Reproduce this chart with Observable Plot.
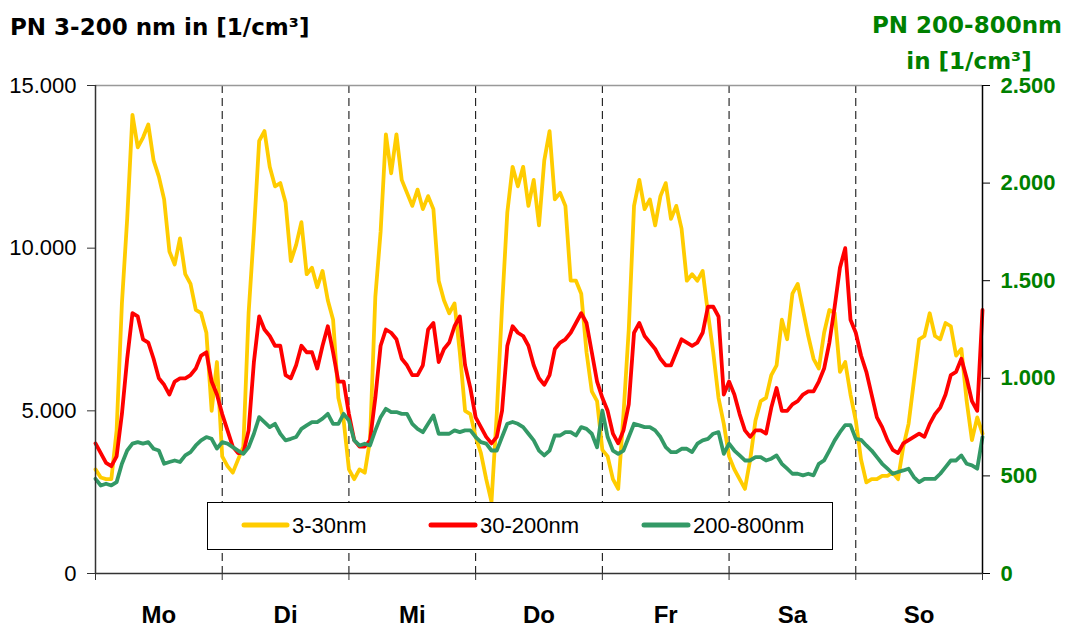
<!DOCTYPE html>
<html>
<head>
<meta charset="utf-8">
<script src="https://cdn.jsdelivr.net/npm/d3@7"></script>
<script src="https://cdn.jsdelivr.net/npm/@observablehq/plot@0.6"></script>
<style>
  body { margin: 0; background: #fff; }
  #chart { position: relative; width: 1066px; height: 628px; }
</style>
</head>
<body>
<div id="chart"></div>
<script>
// ---- data (hourly values, Monday 0h .. Sunday 24h) ----
const days = ["Mo", "Di", "Mi", "Do", "Fr", "Sa", "So"];
const dayBounds = [0, 24, 48, 72, 96, 120, 144, 168];
const dayCenters = [12, 36, 60, 84, 108, 132, 156];
const leftTicks = [0, 5000, 10000, 15000];
const rightTicks = [0, 500, 1000, 1500, 2000, 2500];
const seriesNames = ["3-30nm", "30-200nm", "200-800nm"];

// 3-30nm (left axis, 1/cm³)
const yellow = [
  3200, 2950, 2900, 2900, 4400, 8300, 10900, 14100, 13100, 13400, 13800, 12700, 12200, 11500, 9900, 9500, 10300, 9200, 8900, 8100, 8000, 7400, 5000, 6500,
  3600, 3300, 3100, 3500, 3900, 8000, 10500, 13300, 13600, 12500, 11900, 12000, 11400, 9600, 10100, 10800, 9200, 9400, 8800, 9300, 8400, 7800, 5400, 4700,
  3200, 2900, 3200, 3100, 4100, 8500, 10500, 13500, 12300, 13500, 12100, 11700, 11300, 11800, 11200, 11600, 11200, 9000, 8400, 8000, 8300, 6800, 5000, 4900,
  4200, 3700, 2900, 2200, 4900, 8200, 11100, 12500, 11900, 12500, 11300, 12100, 10700, 12700, 13600, 11500, 11700, 11300, 9000, 9000, 8600, 6800, 5600, 5300,
  3800, 3600, 2900, 2600, 4900, 7500, 11300, 12100, 11200, 11500, 10700, 11600, 12000, 10900, 11300, 10600, 9000, 9200, 9000, 9300, 8000, 6800, 5400, 4600,
  3600, 3200, 2900, 2600, 3500, 4700, 5300, 5400, 6100, 6400, 7800, 7200, 8600, 8900, 8100, 7300, 6600, 6300, 7400, 8100, 8000, 6200, 6500, 5500,
  4700, 3500, 2800, 2900, 2900, 3000, 3000, 3100, 2900, 3900, 4600, 5900, 7200, 7300, 8000, 7300, 7200, 7700, 7600, 6700, 6900, 5300, 4100, 4800, 4300
];
// 30-200nm (left axis, 1/cm³)
const red = [
  4000, 3700, 3400, 3300, 3600, 4900, 6600, 8000, 7900, 7200, 7100, 6600, 6000, 5800, 5500, 5900, 6000, 6000, 6100, 6300, 6700, 6800, 5900, 5500,
  4900, 4400, 3900, 3700, 3700, 4400, 6500, 7900, 7500, 7300, 7000, 7000, 6100, 6000, 6400, 7000, 6800, 6800, 6300, 7000, 7600, 6800, 5900, 5900,
  4900, 4100, 3900, 3900, 4100, 5400, 7000, 7500, 7400, 7200, 6600, 6400, 6100, 6100, 6400, 7500, 7700, 6500, 6900, 7100, 7600, 7900, 6400, 5700,
  4800, 4500, 4200, 4000, 4200, 5000, 7000, 7600, 7400, 7300, 7000, 6400, 6000, 5800, 6100, 6900, 7100, 7200, 7400, 7700, 8000, 7700, 6800, 5900,
  5400, 5000, 4300, 4000, 4400, 5200, 7400, 7700, 7300, 7100, 6900, 6600, 6400, 6400, 6800, 7200, 7100, 7000, 7100, 7400, 8200, 8200, 7900, 5500,
  5900, 5500, 4900, 4400, 4200, 4400, 4400, 4300, 5100, 5700, 5000, 5000, 5200, 5300, 5500, 5600, 5600, 5900, 6300, 7100, 8200, 9400, 10000, 7800,
  7400, 6700, 6200, 5500, 4800, 4500, 4100, 3800, 3700, 4000, 4100, 4200, 4300, 4200, 4600, 4900, 5100, 5500, 6100, 6200, 6600, 6000, 5300, 5000, 8100
];
// 200-800nm (right axis, 1/cm³)
const green = [
  485, 451, 460, 451, 468, 562, 630, 665, 673, 665, 673, 639, 630, 562, 571, 579, 571, 605, 622, 656, 682, 699, 690, 640,
  673, 665, 647, 630, 613, 647, 716, 801, 776, 750, 767, 716, 682, 690, 699, 741, 759, 776, 776, 793, 818, 767, 767, 818,
  784, 682, 656, 665, 656, 733, 801, 844, 827, 827, 818, 818, 767, 741, 724, 767, 810, 716, 716, 716, 733, 724, 733, 733,
  699, 673, 665, 630, 630, 699, 767, 776, 767, 750, 716, 682, 630, 605, 630, 707, 707, 724, 724, 707, 750, 741, 716, 647,
  835, 699, 630, 613, 630, 699, 767, 759, 750, 750, 733, 699, 647, 622, 622, 639, 639, 622, 665, 682, 690, 716, 724, 613,
  665, 630, 605, 579, 579, 596, 596, 579, 588, 605, 562, 537, 511, 511, 503, 511, 503, 562, 579, 630, 682, 724, 760, 760,
  690, 685, 656, 630, 596, 562, 537, 511, 520, 528, 537, 494, 468, 485, 485, 485, 511, 545, 579, 579, 605, 562, 554, 537, 699
];

// ---- helpers ----
const colors = {"3-30nm": "#FFCC00", "30-200nm": "#FF0000", "200-800nm": "#339966"};
const ratio = 15000 / 2500; // right axis -> left axis
const fmt = d3.formatLocale({decimal: ",", thousands: ".", grouping: [3], currency: ["", "€"]}).format(",d");
const rows = (arr) => arr.map((v, i) => ({h: i, v}));
const lineOpts = {strokeWidth: 3.8, strokeLinejoin: "round", strokeLinecap: "round"};

const plot = Plot.plot({
  width: 1066,
  height: 628,
  marginLeft: 95,
  marginRight: 84,
  marginTop: 85,
  marginBottom: 55,
  style: {fontFamily: "'Liberation Sans', Arial, sans-serif", background: "#fff", color: "#000", overflow: "visible"},
  x: {domain: [0, 168]},
  y: {domain: [0, 15000]},
  marks: [
    Plot.ruleX(dayBounds.slice(1, -1), {stroke: "#000", strokeWidth: 1, strokeDasharray: "8,5"}),
    Plot.ruleY([15000], {stroke: "#999", strokeWidth: 1.5}),
    Plot.line(rows(yellow), {x: "h", y: "v", stroke: colors["3-30nm"], ...lineOpts}),
    Plot.line(rows(red), {x: "h", y: "v", stroke: colors["30-200nm"], ...lineOpts}),
    Plot.line(rows(green), {x: "h", y: d => d.v * ratio, stroke: colors["200-800nm"], ...lineOpts}),
    Plot.ruleX([0], {stroke: "#333", strokeWidth: 1.5}),
    Plot.ruleX([168], {stroke: "#000", strokeWidth: 1.5}),
    Plot.ruleY([0], {stroke: "#333", strokeWidth: 1.5}),
    Plot.axisY({anchor: "left", ticks: leftTicks, tickFormat: fmt, tickSize: 8, tickPadding: 11,
      fontSize: 22, label: null, stroke: "#333"}),
    Plot.axisY({anchor: "right", ticks: rightTicks.map(v => v * ratio), tickFormat: d => fmt(d / ratio),
      tickSize: 7, tickPadding: 11, fontSize: 22, fontWeight: "bold", fill: "#008000", stroke: "#000", label: null}),
    Plot.axisX({ticks: dayBounds, tickFormat: () => "", tickSize: 7, label: null, stroke: "#333"}),
    Plot.axisX({ticks: dayCenters, tickFormat: d => days[Math.floor(d / 24)], tickSize: 0, tickPadding: 32,
      fontSize: 24, fontWeight: "bold", label: null})
  ]
});

document.getElementById("chart").appendChild(plot);

// ---- titles ----
const svg = d3.select(plot);
const titleFont = "'DejaVu Sans', 'Liberation Sans', sans-serif";
svg.append("text").attr("x", 10).attr("y", 35).attr("text-anchor", "start")
  .attr("font-family", titleFont).attr("font-weight", "bold").attr("font-size", 23).attr("fill", "#000")
  .text("PN 3-200 nm in [1/cm³]");
svg.append("text").attr("x", 967).attr("y", 33).attr("text-anchor", "middle")
  .attr("font-family", titleFont).attr("font-weight", "bold").attr("font-size", 23).attr("fill", "#008000")
  .text("PN 200-800nm");
svg.append("text").attr("x", 969).attr("y", 69).attr("text-anchor", "middle")
  .attr("font-family", titleFont).attr("font-weight", "bold").attr("font-size", 23).attr("fill", "#008000")
  .text("in [1/cm³]");

// ---- legend ----
const lg = svg.append("g");
lg.append("rect").attr("x", 207.5).attr("y", 502.5).attr("width", 625).attr("height", 47)
  .attr("fill", "#fff").attr("stroke", "#000").attr("stroke-width", 1);
const legendItems = [
  {name: seriesNames[0], x1: 244, x2: 287, tx: 292},
  {name: seriesNames[1], x1: 431, x2: 475, tx: 480},
  {name: seriesNames[2], x1: 644, x2: 688, tx: 693}
];
legendItems.forEach(it => {
  lg.append("line").attr("x1", it.x1).attr("x2", it.x2).attr("y1", 525).attr("y2", 525)
    .attr("stroke", colors[it.name]).attr("stroke-width", 5).attr("stroke-linecap", "round");
  lg.append("text").attr("x", it.tx).attr("y", 533).attr("text-anchor", "start")
    .attr("font-family", "'Liberation Sans', Arial, sans-serif").attr("font-size", 22).attr("fill", "#000")
    .text(it.name);
});
</script>
</body>
</html>
